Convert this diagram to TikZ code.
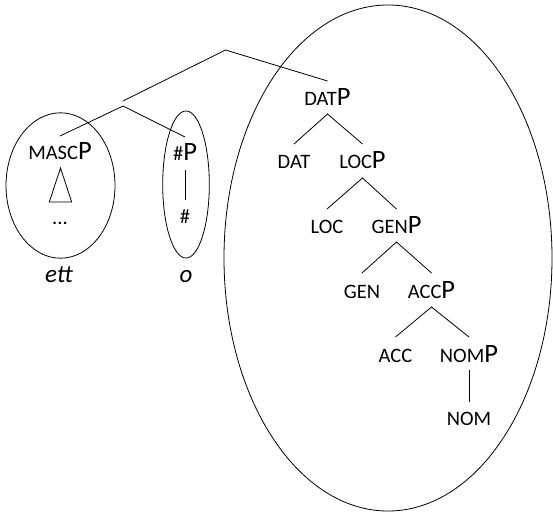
\documentclass[tikz,border=0pt]{standalone}
\usepackage{fontspec}
\setmainfont{Carlito}
\newcommand{\smlcap}[1]{{\fontsize{20.5}{24}\selectfont #1}}
\newcommand{\bigP}{{\fontsize{26.5}{30}\selectfont P}}
\begin{document}
\begin{tikzpicture}[x=1pt,y=-1pt,
  lbl/.style={inner sep=0pt, anchor=base},
  ln/.style={line width=0.8pt, black},
  every path/.style={line width=0.8pt}]
\useasboundingbox (0,0) rectangle (553,514);
% ellipses
\draw (60.5,185.5) ellipse [x radius=54.5pt, y radius=72.7pt];
\draw (186,184.5) ellipse [x radius=23.3pt, y radius=73.5pt];
\draw (388,258) ellipse [x radius=164pt, y radius=253pt];
% nodes
\node[lbl] (datp) at (327.5,105) {\smlcap{DAT}\bigP};
\node[lbl] (dat) at (294,168) {\smlcap{DAT}};
\node[lbl] (locp) at (362.5,168) {\smlcap{LOC}\bigP};
\node[lbl] (loc) at (327,233) {\smlcap{LOC}};
\node[lbl] (genp) at (396.5,233) {\smlcap{GEN}\bigP};
\node[lbl] (gen) at (362,298) {\smlcap{GEN}};
\node[lbl] (accp) at (431.5,298) {\smlcap{ACC}\bigP};
\node[lbl] (acc) at (395.5,362) {\smlcap{ACC}};
\node[lbl] (nomp) at (469,362) {\smlcap{NOM}\bigP};
\node[lbl] (nom) at (469,425) {\smlcap{NOM}};
\node[lbl] (mascp) at (60,159) {\smlcap{MASC}\bigP};
\node[lbl] (nump) at (185,160) {\smlcap{\#}\bigP};
\node[lbl] (num) at (185,223) {\smlcap{\#}};
\node[lbl] (dots) at (60,224) {\smlcap{...}};
\node[lbl] (ett) at (59,282) {\fontsize{25}{28}\selectfont\itshape ett};
\node[lbl] (o) at (186,282) {\fontsize{25}{28}\selectfont\itshape o};
% top structure
\coordinate (top) at (225.5,50);
\coordinate (j) at (123,101);
\coordinate (jl) at (123,106);
\draw[ln] (j) -- (top) -- ([yshift=24pt]datp.base);
\draw[ln] ([yshift=23pt]mascp.base) -- (jl) -- ([yshift=23pt]nump.base);
\draw[ln] ([yshift=-10pt]nump.base) -- ([yshift=23pt]num.base);
% triangle
\draw[ln] (60.5,168) -- (49.3,202) -- (71.7,202) -- cycle;
% big tree
\draw[ln] ([yshift=24pt]dat.base) -- ([yshift=-9pt]datp.base) -- ([yshift=24pt]locp.base);
\draw[ln] ([yshift=24pt]loc.base) -- ([yshift=-10pt]locp.base) -- ([yshift=24pt]genp.base);
\draw[ln] ([yshift=25pt]gen.base) -- ([yshift=-9pt]genp.base) -- ([yshift=25pt]accp.base);
\draw[ln] ([yshift=25pt]acc.base) -- ([yshift=-9pt]accp.base) -- ([yshift=25pt]nomp.base);
\draw[ln] ([yshift=-8pt]nomp.base) -- ([yshift=23pt]nom.base);
\end{tikzpicture}
\end{document}
